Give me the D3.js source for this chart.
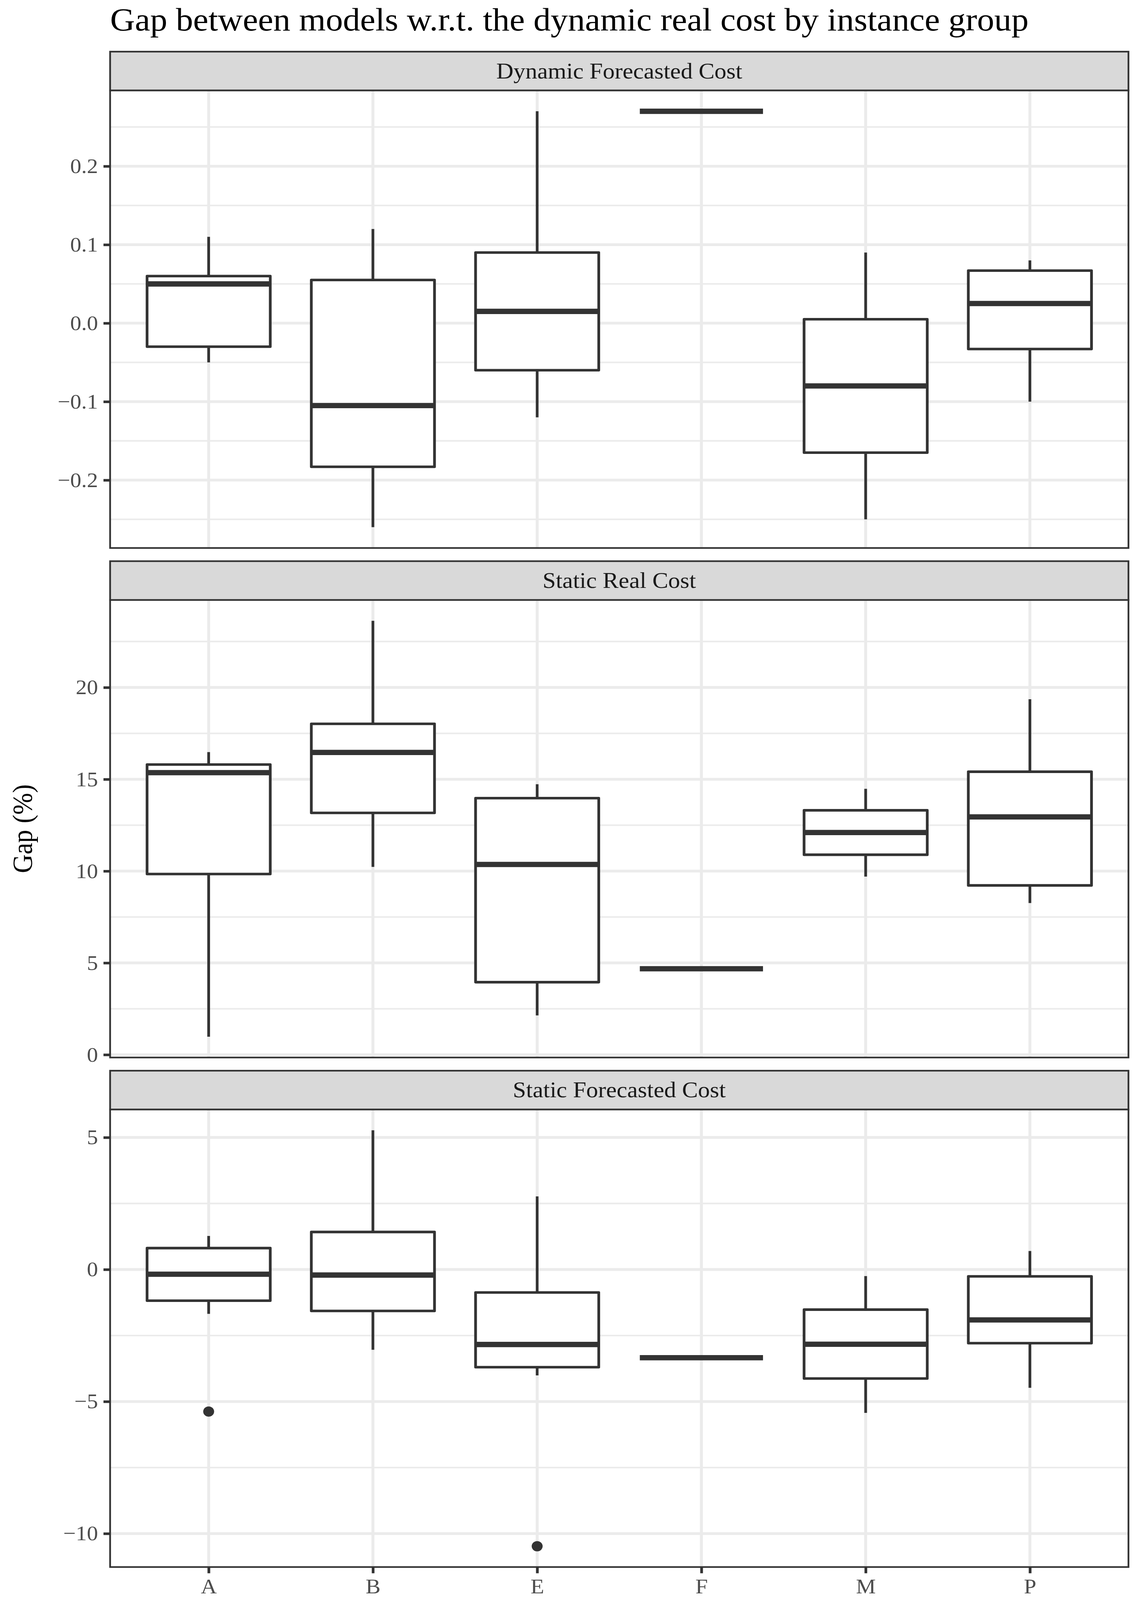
<!DOCTYPE html>
<html>
<head>
<meta charset="utf-8">
<script src="https://cdn.jsdelivr.net/npm/d3@7"></script>
<style>
  html, body { margin: 0; padding: 0; width: 100%; height: 100%; overflow: hidden; background: #fff; }
  #chart { width: 100%; height: 100%; }
  text { font-family: "Liberation Serif", "DejaVu Serif", serif; }
</style>
</head>
<body>
<div id="chart"></div>
<script>
// instance groups and facets
const groups = ["A", "B", "E", "F", "M", "P"];
const facetNames = ["Dynamic Forecasted Cost", "Static Real Cost", "Static Forecasted Cost"];

// one row per group: lower whisker, Q1, median, Q3, upper whisker
const dynamicForecasted = [
    [-0.05, -0.03, 0.05, 0.06, 0.11],
    [-0.26, -0.183, -0.105, 0.055, 0.12],
    [-0.12, -0.06, 0.015, 0.09, 0.27],
    [0.27, 0.27, 0.27, 0.27, 0.27],
    [-0.25, -0.165, -0.08, 0.005, 0.09],
    [-0.10, -0.033, 0.025, 0.067, 0.08]
];
const staticReal = [
    [0.98, 9.84, 15.36, 15.80, 16.48],
    [10.23, 13.17, 16.46, 18.02, 23.63],
    [2.14, 3.95, 10.36, 13.97, 14.73],
    [4.68, 4.68, 4.68, 4.68, 4.68],
    [9.70, 10.89, 12.10, 13.31, 14.48],
    [8.26, 9.22, 12.95, 15.41, 19.36]
];
const staticForecasted = [
    [-1.68, -1.18, -0.18, 0.81, 1.27],
    [-3.04, -1.57, -0.21, 1.42, 5.27],
    [-4.01, -3.70, -2.84, -0.87, 2.77],
    [-3.34, -3.34, -3.34, -3.34, -3.34],
    [-5.43, -4.13, -2.83, -1.52, -0.25],
    [-4.48, -2.79, -1.91, -0.26, 0.70]
];

// outliers: [group, value]
const dynamicForecastedOutliers = [];
const staticRealOutliers = [];
const staticForecastedOutliers = [["A", -5.38], ["E", -10.48]];

// y tick labels per facet
const ticksDynamicForecasted = [-0.2, -0.1, 0, 0.1, 0.2];
const ticksStaticReal = [0, 5, 10, 15, 20];
const ticksStaticForecasted = [-10, -5, 0, 5];

const W = 2917, H = 4368;
const left = 282, right = 2890;
const stripH = 106, plotH = 1249, gap = 36, firstTop = 141;

// drawn in a 2917x4368 coordinate space, stretched to whatever the window is
const svg = d3.select("#chart")
    .append("svg")
    .attr("viewBox", "0 0 " + W + " " + H)
    .attr("preserveAspectRatio", "none")
    .attr("width", "100%")
    .attr("height", "100%")
    .style("display", "block");

svg.append("rect").attr("width", W).attr("height", H).attr("fill", "#fff");

// title
svg.append("text")
    .attr("x", left)
    .attr("y", 83)
    .style("font-size", "88px")
    .attr("fill", "#000")
    .text("Gap between models w.r.t. the dynamic real cost by instance group");

// y axis title, centred over the plotting areas
const yTitleMid = (firstTop + stripH + firstTop + 3 * (stripH + plotH) + 2 * gap) / 2;
svg.append("text")
    .attr("transform", "translate(82," + yTitleMid + ") rotate(-90)")
    .attr("text-anchor", "middle")
    .style("font-size", "71px")
    .attr("fill", "#000")
    .text("Gap (%)");

const xScale = d3.scalePoint().domain(groups).range([left, right]).padding(0.6);
const boxHalf = xScale.step() * 0.75 / 2;

class BoxFacet {
    constructor(config, rows, outliers, ticks, fmt) {
        this.config = config;
        this.rows = rows;
        this.outliers = outliers;
        this.ticks = ticks;
        this.fmt = fmt;
        this.g = svg.append("g").attr("transform", "translate(0," + config.top + ")");
        this.initVis();
    }

    initVis() {
        let vis = this;
        const y0 = stripH, y1 = stripH + plotH;

        // domain like ggplot: data range + 5% each side
        const vals = vis.rows.flat().concat(vis.outliers.map(d => d[1]));
        const [lo, hi] = d3.extent(vals);
        const pad = (hi - lo) * 0.05;
        vis.yScale = d3.scaleLinear().domain([lo - pad, hi + pad]).range([y1, y0]);

        // strip
        vis.g.append("rect")
            .attr("x", left).attr("y", 0)
            .attr("width", right - left).attr("height", stripH)
            .attr("fill", "#D9D9D9")
            .attr("stroke", "#333333").attr("stroke-width", 4.5);
        vis.g.append("text")
            .attr("x", (left + right) / 2).attr("y", 73)
            .attr("text-anchor", "middle")
            .style("font-size", "61px")
            .attr("fill", "#1A1A1A")
            .text(vis.config.name);

        vis.g.append("rect")
            .attr("x", left).attr("y", y0)
            .attr("width", right - left).attr("height", plotH)
            .attr("fill", "#fff");

        // minor grid at half steps
        const step = vis.ticks[1] - vis.ticks[0];
        const dom = vis.yScale.domain();
        const minor = [vis.ticks[0] - step / 2].concat(vis.ticks.map(t => t + step / 2))
            .filter(v => v > dom[0] && v < dom[1]);
        vis.g.selectAll(".minor").data(minor).enter().append("line")
            .attr("x1", left).attr("x2", right)
            .attr("y1", d => vis.yScale(d)).attr("y2", d => vis.yScale(d))
            .attr("stroke", "#EBEBEB").attr("stroke-width", 4.3);
        vis.g.selectAll(".major").data(vis.ticks).enter().append("line")
            .attr("x1", left).attr("x2", right)
            .attr("y1", d => vis.yScale(d)).attr("y2", d => vis.yScale(d))
            .attr("stroke", "#EBEBEB").attr("stroke-width", 7.5);
        vis.g.selectAll(".vgrid").data(groups).enter().append("line")
            .attr("x1", d => xScale(d)).attr("x2", d => xScale(d))
            .attr("y1", y0).attr("y2", y1)
            .attr("stroke", "#EBEBEB").attr("stroke-width", 7.5);

        vis.updateVis();
    }

    updateVis() {
        let vis = this;
        const y = vis.yScale;
        const data = vis.rows.map((r, i) => ({ group: groups[i], low: r[0], q1: r[1], med: r[2], q3: r[3], high: r[4] }));

        const box = vis.g.selectAll(".box").data(data).enter().append("g").attr("class", "box");
        // whiskers
        box.append("line")
            .attr("x1", d => xScale(d.group)).attr("x2", d => xScale(d.group))
            .attr("y1", d => y(d.q3)).attr("y2", d => y(d.high))
            .attr("stroke", "#333333").attr("stroke-width", 7);
        box.append("line")
            .attr("x1", d => xScale(d.group)).attr("x2", d => xScale(d.group))
            .attr("y1", d => y(d.q1)).attr("y2", d => y(d.low))
            .attr("stroke", "#333333").attr("stroke-width", 7);
        // box
        box.append("rect")
            .attr("x", d => xScale(d.group) - boxHalf)
            .attr("y", d => y(d.q3))
            .attr("width", boxHalf * 2)
            .attr("height", d => y(d.q1) - y(d.q3))
            .attr("fill", "#fff")
            .attr("stroke", "#333333").attr("stroke-width", 7)
            .attr("stroke-linejoin", "round");
        // median
        box.append("line")
            .attr("x1", d => xScale(d.group) - boxHalf).attr("x2", d => xScale(d.group) + boxHalf)
            .attr("y1", d => y(d.med)).attr("y2", d => y(d.med))
            .attr("stroke", "#333333").attr("stroke-width", 14.5);

        // outliers
        vis.g.selectAll(".outlier").data(vis.outliers).enter().append("circle")
            .attr("cx", d => xScale(d[0]))
            .attr("cy", d => y(d[1]))
            .attr("r", 14)
            .attr("fill", "#333333");

        // panel border on top
        vis.g.append("rect")
            .attr("x", left).attr("y", stripH)
            .attr("width", right - left).attr("height", plotH)
            .attr("fill", "none")
            .attr("stroke", "#333333").attr("stroke-width", 4.5);

        // y axis
        const yAxis = vis.g.append("g")
            .attr("transform", "translate(" + left + ",0)")
            .call(d3.axisLeft(y).tickValues(vis.ticks).tickFormat(vis.fmt).tickSize(17).tickPadding(14));
        yAxis.select(".domain").remove();
        yAxis.selectAll(".tick line").attr("stroke", "#333333").attr("stroke-width", 7);
        yAxis.selectAll(".tick text")
            .attr("fill", "#4D4D4D")
            .style("font-family", "'Liberation Serif', serif")
            .style("font-size", "57px");

        if (vis.config.showX) {
            const xAxis = vis.g.append("g")
                .attr("transform", "translate(0," + (stripH + plotH) + ")")
                .call(d3.axisBottom(xScale).tickSize(17).tickPadding(14));
            xAxis.select(".domain").remove();
            xAxis.selectAll(".tick line").attr("stroke", "#333333").attr("stroke-width", 7);
            xAxis.selectAll(".tick text")
                .attr("fill", "#4D4D4D")
                .style("font-family", "'Liberation Serif', serif")
                .style("font-size", "57px");
        }
    }
}

const facetRows = [dynamicForecasted, staticReal, staticForecasted];
const facetOutliers = [dynamicForecastedOutliers, staticRealOutliers, staticForecastedOutliers];
const facetTicks = [ticksDynamicForecasted, ticksStaticReal, ticksStaticForecasted];
const facetFormats = [d3.format(".1f"), d3.format("d"), d3.format("d")];

facetNames.forEach((name, i) => {
    new BoxFacet(
        { name: name, top: firstTop + i * (stripH + plotH + gap), showX: i === facetNames.length - 1 },
        facetRows[i], facetOutliers[i], facetTicks[i], facetFormats[i]
    );
});
</script>
</body>
</html>
